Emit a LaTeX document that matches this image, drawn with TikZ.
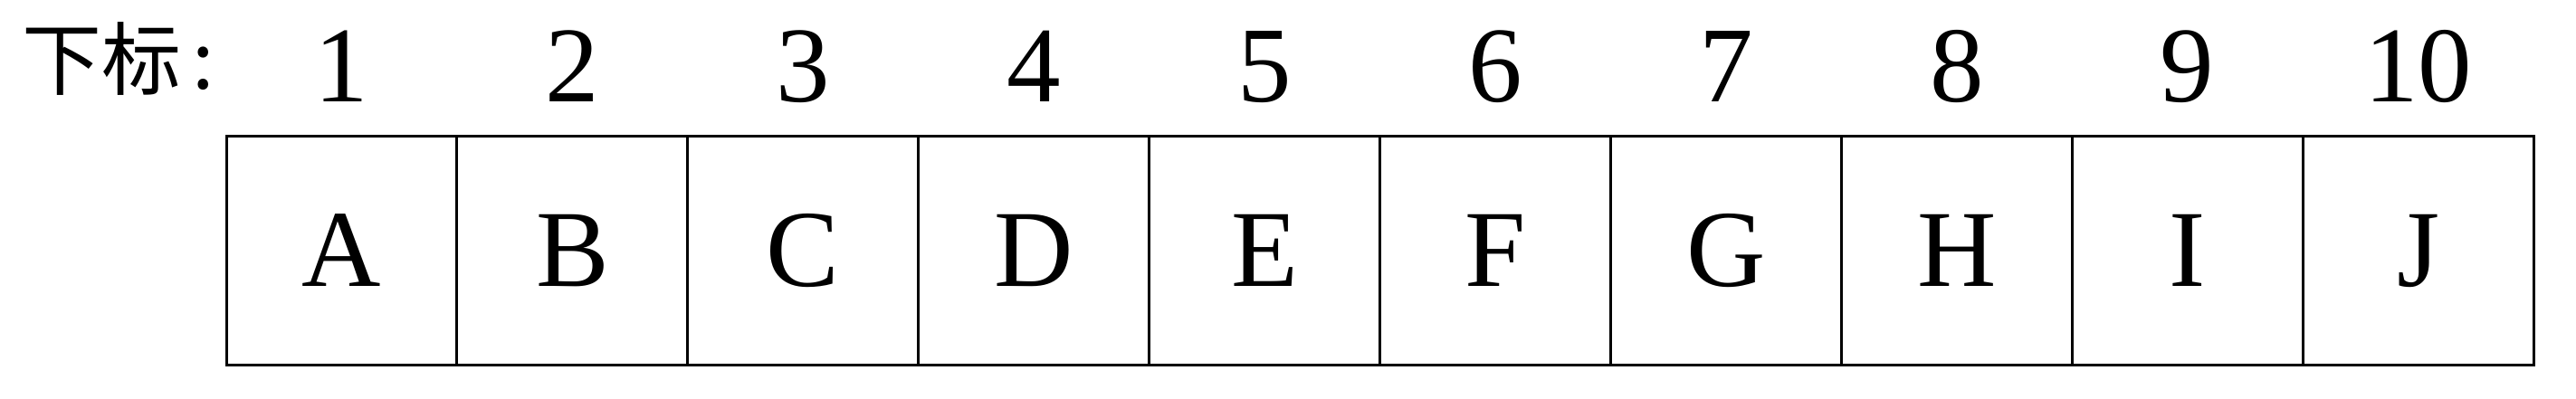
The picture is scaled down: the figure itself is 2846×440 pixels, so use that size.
\documentclass[tikz,border=0pt]{standalone}
\usepackage{fontspec}
\setmainfont{Liberation Serif}
\newfontfamily\cjk{Noto Sans CJK SC}
\begin{document}
\begin{tikzpicture}[x=1pt,y=1pt,
  cell/.style={draw, line width=3pt, minimum width=254.9pt, minimum height=253pt, inner sep=0pt, font=\fontsize{121}{121}\selectfont},
  idx/.style={anchor=base, inner sep=0pt, font=\fontsize{119}{119}\selectfont},
  lab/.style={anchor=base west, inner sep=0pt, font=\cjk\fontsize{88}{88}\selectfont}]
\useasboundingbox (0,0) rectangle (2846,440);
\node[lab] (label) at (24,341) {下标\hspace{12pt}:};
\foreach \l [count=\i] in {A,B,C,D,E,F,G,H,I,J} {
  \node[cell] (c\i) at ({377.5+(\i-1)*254.9},163) {\l};
  \node[idx] (n\i) at ({377.5+(\i-1)*254.9},327) {\i};
}
\end{tikzpicture}
\end{document}
